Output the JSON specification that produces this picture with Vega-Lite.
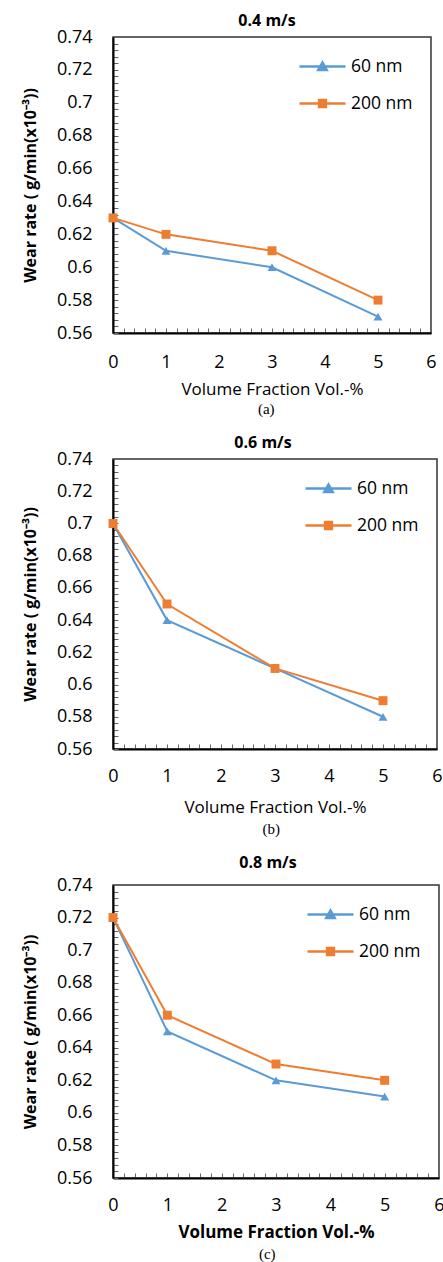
{
  "$schema": "https://vega.github.io/schema/vega-lite/v6.json",
  "padding": {"left": 21, "top": 12, "right": 4, "bottom": 0},
  "spacing": 17,
  "columns": 1,
  "align": "none",
  "config": {
    "view": {"stroke": "#333", "strokeWidth": 1.5},
    "font": "Open Sans",
    "axis": {"grid": false, "domainColor": "#000", "domainWidth": 2, "tickColor": "#666", "tickSize": -5, "labelFont": "Open Sans", "labelFontSize": 18, "labelColor": "#000", "labelOverlap": false, "labelFlush": false, "titleFont": "Open Sans", "titleColor": "#000"},
    "legend": {"labelFont": "Open Sans", "labelFontSize": 17.5, "labelColor": "#000", "orient": "top-right", "offset": 18, "symbolSize": 400, "symbolStrokeWidth": 2.5, "symbolOpacity": 1, "rowPadding": 17, "labelOffset": 17}
  },
  "resolve": {"scale": {"color": "independent", "shape": "independent"}, "legend": {"color": "independent", "shape": "independent"}},
  "datasets": {
    "a": [
      {"x": 0, "y": 0.63, "s": "60 nm"}, {"x": 1, "y": 0.61, "s": "60 nm"}, {"x": 3, "y": 0.60, "s": "60 nm"}, {"x": 5, "y": 0.57, "s": "60 nm"},
      {"x": 0, "y": 0.63, "s": "200 nm"}, {"x": 1, "y": 0.62, "s": "200 nm"}, {"x": 3, "y": 0.61, "s": "200 nm"}, {"x": 5, "y": 0.58, "s": "200 nm"}
    ],
    "b": [
      {"x": 0, "y": 0.70, "s": "60 nm"}, {"x": 1, "y": 0.64, "s": "60 nm"}, {"x": 3, "y": 0.61, "s": "60 nm"}, {"x": 5, "y": 0.58, "s": "60 nm"},
      {"x": 0, "y": 0.70, "s": "200 nm"}, {"x": 1, "y": 0.65, "s": "200 nm"}, {"x": 3, "y": 0.61, "s": "200 nm"}, {"x": 5, "y": 0.59, "s": "200 nm"}
    ],
    "c": [
      {"x": 0, "y": 0.72, "s": "60 nm"}, {"x": 1, "y": 0.65, "s": "60 nm"}, {"x": 3, "y": 0.62, "s": "60 nm"}, {"x": 5, "y": 0.61, "s": "60 nm"},
      {"x": 0, "y": 0.72, "s": "200 nm"}, {"x": 1, "y": 0.66, "s": "200 nm"}, {"x": 3, "y": 0.63, "s": "200 nm"}, {"x": 5, "y": 0.62, "s": "200 nm"}
    ]
  },
  "concat": [
    {
      "title": {"text": "(a)", "orient": "bottom", "anchor": "middle", "dx": 37, "font": "Liberation Serif", "fontSize": 15, "fontWeight": "normal", "offset": 4},
      "resolve": {"scale": {"color": "independent", "shape": "independent"}, "legend": {"color": "independent", "shape": "independent"}},
      "vconcat": [
        {
          "title": {"text": "0.4 m/s", "dx": -5, "fontSize": 16, "fontWeight": "bold", "font": "Open Sans", "offset": -1},
          "width": 318, "height": 296,
          "data": {"name": "a"},
          "encoding": {
            "x": {"field": "x", "type": "quantitative", "scale": {"domain": [0, 6], "nice": false},
              "axis": {"values": [0,0.2,0.4,0.6,0.8,1,1.2,1.4,1.6,1.8,2,2.2,2.4,2.6,2.8,3,3.2,3.4,3.6,3.8,4,4.2,4.4,4.6,4.8,5,5.2,5.4,5.6,5.8,6],
                "labelExpr": "abs(datum.value - round(datum.value)) < 0.001 ? '' + round(datum.value) : ''",
                "labelPadding": 25, "title": "Volume Fraction Vol.-%", "titleFontSize": 17, "titleFontWeight": "normal", "titlePadding": 10}},
            "y": {"field": "y", "type": "quantitative", "scale": {"domain": [0.56, 0.74], "nice": false, "zero": false},
              "axis": {"values": [0.56,0.564,0.568,0.572,0.576,0.58,0.584,0.588,0.592,0.596,0.6,0.604,0.608,0.612,0.616,0.62,0.624,0.628,0.632,0.636,0.64,0.644,0.648,0.652,0.656,0.66,0.664,0.668,0.672,0.676,0.68,0.684,0.688,0.692,0.696,0.7,0.704,0.708,0.712,0.716,0.72,0.724,0.728,0.732,0.736,0.74],
                "labelExpr": "abs(datum.value*50 - round(datum.value*50)) < 0.01 ? '' + round(datum.value*100)/100 : ''",
                "labelPadding": 26, "title": "Wear rate ( g/min(x10⁻³))", "titleFontSize": 16, "titleFontWeight": "bold", "titlePadding": 18}}
          },
          "layer": [
            {"transform": [{"filter": "datum.s === '60 nm'"}], "mark": {"type": "line", "strokeWidth": 2, "color": "#5B9BD5"}},
            {"transform": [{"filter": "datum.s === '200 nm'"}], "mark": {"type": "line", "strokeWidth": 2, "color": "#ED7D31"}},
            {"transform": [{"filter": "datum.s === '60 nm'"}],
             "mark": {"type": "point", "filled": true, "opacity": 1, "size": 80, "shape": "triangle-up", "color": "#5B9BD5"}},
            {"transform": [{"filter": "datum.s === '200 nm'"}],
             "mark": {"type": "point", "filled": true, "opacity": 1, "size": 80, "shape": "square", "color": "#ED7D31"}},
            {"mark": {"type": "point", "filled": false, "opacity": 0, "strokeWidth": 2.5},
             "encoding": {
               "color": {"field": "s", "type": "nominal", "scale": {"domain": ["60 nm", "200 nm"], "range": ["#5B9BD5", "#ED7D31"]},
                 "legend": {"title": null, "labelExpr": "datum.label + ' '"}},
               "shape": {"field": "s", "type": "nominal", "scale": {"domain": ["60 nm", "200 nm"], "range": ["M-2.3,0H2.3M-0.42,0.34L0,-0.4L0.42,0.34ZM-0.14,0.16L0,-0.1L0.14,0.16Z", "M-2.3,0H2.3M-0.34,-0.34H0.34V0.34H-0.34ZM-0.12,-0.12H0.12V0.12H-0.12Z"]},
                 "legend": {"title": null, "labelExpr": "datum.label + ' '"}}
             }}
          ]
        }
      ]
    },
    {
      "title": {"text": "(b)", "orient": "bottom", "anchor": "middle", "dx": 39, "font": "Liberation Serif", "fontSize": 15, "fontWeight": "normal", "offset": 6},
      "resolve": {"scale": {"color": "independent", "shape": "independent"}, "legend": {"color": "independent", "shape": "independent"}},
      "vconcat": [
        {
          "title": {"text": "0.6 m/s", "dx": -12, "fontSize": 16, "fontWeight": "bold", "font": "Open Sans", "offset": -1},
          "width": 324, "height": 290,
          "data": {"name": "b"},
          "encoding": {
            "x": {"field": "x", "type": "quantitative", "scale": {"domain": [0, 6], "nice": false},
              "axis": {"values": [0,0.2,0.4,0.6,0.8,1,1.2,1.4,1.6,1.8,2,2.2,2.4,2.6,2.8,3,3.2,3.4,3.6,3.8,4,4.2,4.4,4.6,4.8,5,5.2,5.4,5.6,5.8,6],
                "labelExpr": "abs(datum.value - round(datum.value)) < 0.001 ? '' + round(datum.value) : ''",
                "labelPadding": 23, "title": "Volume Fraction Vol.-%", "titleFontSize": 17, "titleFontWeight": "normal", "titlePadding": 14}},
            "y": {"field": "y", "type": "quantitative", "scale": {"domain": [0.56, 0.74], "nice": false, "zero": false},
              "axis": {"values": [0.56,0.564,0.568,0.572,0.576,0.58,0.584,0.588,0.592,0.596,0.6,0.604,0.608,0.612,0.616,0.62,0.624,0.628,0.632,0.636,0.64,0.644,0.648,0.652,0.656,0.66,0.664,0.668,0.672,0.676,0.68,0.684,0.688,0.692,0.696,0.7,0.704,0.708,0.712,0.716,0.72,0.724,0.728,0.732,0.736,0.74],
                "labelExpr": "abs(datum.value*50 - round(datum.value*50)) < 0.01 ? '' + round(datum.value*100)/100 : ''",
                "labelPadding": 26, "title": "Wear rate ( g/min(x10⁻³))", "titleFontSize": 16, "titleFontWeight": "bold", "titlePadding": 18}}
          },
          "layer": [
            {"transform": [{"filter": "datum.s === '60 nm'"}], "mark": {"type": "line", "strokeWidth": 2, "color": "#5B9BD5"}},
            {"transform": [{"filter": "datum.s === '200 nm'"}], "mark": {"type": "line", "strokeWidth": 2, "color": "#ED7D31"}},
            {"transform": [{"filter": "datum.s === '60 nm'"}],
             "mark": {"type": "point", "filled": true, "opacity": 1, "size": 80, "shape": "triangle-up", "color": "#5B9BD5"}},
            {"transform": [{"filter": "datum.s === '200 nm'"}],
             "mark": {"type": "point", "filled": true, "opacity": 1, "size": 80, "shape": "square", "color": "#ED7D31"}},
            {"mark": {"type": "point", "filled": false, "opacity": 0, "strokeWidth": 2.5},
             "encoding": {
               "color": {"field": "s", "type": "nominal", "scale": {"domain": ["60 nm", "200 nm"], "range": ["#5B9BD5", "#ED7D31"]},
                 "legend": {"title": null, "labelExpr": "datum.label + ' '"}},
               "shape": {"field": "s", "type": "nominal", "scale": {"domain": ["60 nm", "200 nm"], "range": ["M-2.3,0H2.3M-0.42,0.34L0,-0.4L0.42,0.34ZM-0.14,0.16L0,-0.1L0.14,0.16Z", "M-2.3,0H2.3M-0.34,-0.34H0.34V0.34H-0.34ZM-0.12,-0.12H0.12V0.12H-0.12Z"]},
                 "legend": {"title": null, "labelExpr": "datum.label + ' '"}}
             }}
          ]
        }
      ]
    },
    {
      "title": {"text": "(c)", "orient": "bottom", "anchor": "middle", "dx": 34, "font": "Liberation Serif", "fontSize": 15, "fontWeight": "normal", "offset": 6},
      "resolve": {"scale": {"color": "independent", "shape": "independent"}, "legend": {"color": "independent", "shape": "independent"}},
      "vconcat": [
        {
          "title": {"text": "0.8 m/s", "dx": -8, "fontSize": 16, "fontWeight": "bold", "font": "Open Sans", "offset": 5},
          "width": 326, "height": 293,
          "data": {"name": "c"},
          "encoding": {
            "x": {"field": "x", "type": "quantitative", "scale": {"domain": [0, 6], "nice": false},
              "axis": {"values": [0,0.2,0.4,0.6,0.8,1,1.2,1.4,1.6,1.8,2,2.2,2.4,2.6,2.8,3,3.2,3.4,3.6,3.8,4,4.2,4.4,4.6,4.8,5,5.2,5.4,5.6,5.8,6],
                "labelExpr": "abs(datum.value - round(datum.value)) < 0.001 ? '' + round(datum.value) : ''",
                "labelPadding": 23, "title": "Volume Fraction Vol.-%", "titleFontSize": 17, "titleFontWeight": "bold", "titlePadding": 10}},
            "y": {"field": "y", "type": "quantitative", "scale": {"domain": [0.56, 0.74], "nice": false, "zero": false},
              "axis": {"values": [0.56,0.564,0.568,0.572,0.576,0.58,0.584,0.588,0.592,0.596,0.6,0.604,0.608,0.612,0.616,0.62,0.624,0.628,0.632,0.636,0.64,0.644,0.648,0.652,0.656,0.66,0.664,0.668,0.672,0.676,0.68,0.684,0.688,0.692,0.696,0.7,0.704,0.708,0.712,0.716,0.72,0.724,0.728,0.732,0.736,0.74],
                "labelExpr": "abs(datum.value*50 - round(datum.value*50)) < 0.01 ? '' + round(datum.value*100)/100 : ''",
                "labelPadding": 26, "title": "Wear rate ( g/min(x10⁻³))", "titleFontSize": 16, "titleFontWeight": "bold", "titlePadding": 18}}
          },
          "layer": [
            {"transform": [{"filter": "datum.s === '60 nm'"}], "mark": {"type": "line", "strokeWidth": 2, "color": "#5B9BD5"}},
            {"transform": [{"filter": "datum.s === '200 nm'"}], "mark": {"type": "line", "strokeWidth": 2, "color": "#ED7D31"}},
            {"transform": [{"filter": "datum.s === '60 nm'"}],
             "mark": {"type": "point", "filled": true, "opacity": 1, "size": 80, "shape": "triangle-up", "color": "#5B9BD5"}},
            {"transform": [{"filter": "datum.s === '200 nm'"}],
             "mark": {"type": "point", "filled": true, "opacity": 1, "size": 80, "shape": "square", "color": "#ED7D31"}},
            {"mark": {"type": "point", "filled": false, "opacity": 0, "strokeWidth": 2.5},
             "encoding": {
               "color": {"field": "s", "type": "nominal", "scale": {"domain": ["60 nm", "200 nm"], "range": ["#5B9BD5", "#ED7D31"]},
                 "legend": {"title": null, "labelExpr": "datum.label + ' '"}},
               "shape": {"field": "s", "type": "nominal", "scale": {"domain": ["60 nm", "200 nm"], "range": ["M-2.3,0H2.3M-0.42,0.34L0,-0.4L0.42,0.34ZM-0.14,0.16L0,-0.1L0.14,0.16Z", "M-2.3,0H2.3M-0.34,-0.34H0.34V0.34H-0.34ZM-0.12,-0.12H0.12V0.12H-0.12Z"]},
                 "legend": {"title": null, "labelExpr": "datum.label + ' '"}}
             }}
          ]
        }
      ]
    }
  ]
}
